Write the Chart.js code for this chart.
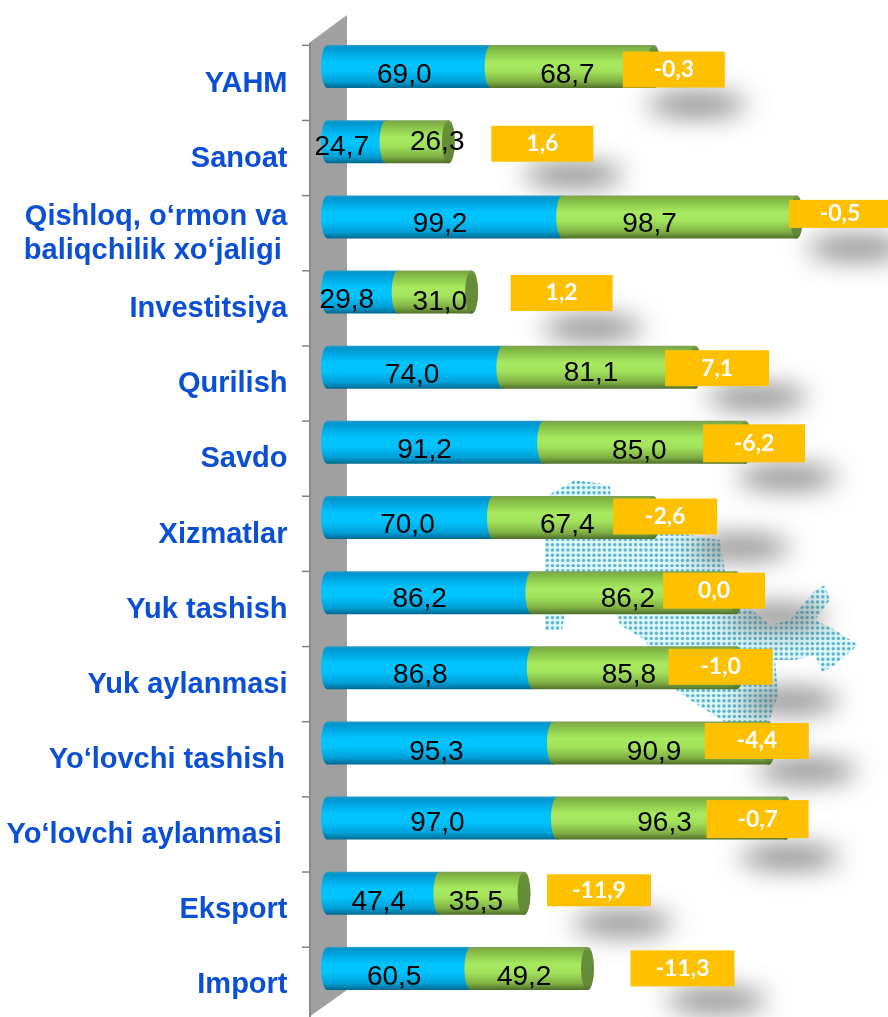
<!DOCTYPE html>
<html><head><meta charset="utf-8">
<style>html,body{margin:0;padding:0;background:#fff}canvas{display:block}</style>
<script src="https://cdn.jsdelivr.net/npm/chart.js@4"></script>
</head><body>
<canvas id="c" width="888" height="1017"></canvas>
<script>
const categories = ["YAHM","Sanoat",["Qishloq, o‘rmon va","baliqchilik xo‘jaligi\u2009"],"Investitsiya","Qurilish","Savdo","Xizmatlar","Yuk tashish","Yuk aylanmasi","Yo‘lovchi tashish\u200a","Yo‘lovchi aylanmasi\u2009","Eksport","Import"];
const seriesA = [69.0,24.7,99.2,29.8,74.0,91.2,70.0,86.2,86.8,95.3,97.0,47.4,60.5];
const seriesB = [68.7,26.3,98.7,31.0,81.1,85.0,67.4,86.2,85.8,90.9,96.3,35.5,49.2];
const change  = ["-0,3","1,6","-0,5","1,2","7,1","-6,2","-2,6","0,0","-1,0","-4,4","-0,7","-11,9","-11,3"];

// label placement tweaks relative to each segment centre / row centre (px)
const labelDxA = [-5,-15,-5,-16,-3,-11,-3,-10,-10,-4,-5,-5,-5];
const labelDxB = [-5,20,-30,5,-8,-5,-6,-6,-6,-7,-7,-6,-5];
const labelDyA = [9,6,7,8,8,8,8,7,7,9,5,9,9];
const labelDyB = [9,1,7,10,6,9,8,7,7,9,5,9,9];
// change-box placement relative to the end of the stack / row centre
const boxDx = [-31,43,-7.5,39,-30,-42,-40,-73,-68,-64,-79,23,43];
const boxDy = [-15,-16,-17,-17,-17,-18,-19,-20,-19,-20,-18,-19,-18];
const boxH  = [36,36,28,36,36,38,36,36,36,36,38,32,36];
const boxW  = [102,102,102,102,104,102,104,102,104,104,102,104,104];
const blobDx= [74,82,68,82,92,84,127,114,121,102,83,76,86];
const blobDy= [17,13,20,17,11,15,13,8,16,12,19,17,14];

const mapShape = [[545,497],[575,480],[610,485],[612,520],[660,530],[720,540],[728,590],[770,625],[790,620],[815,590],[825,585],[830,600],[815,620],[835,630],[858,645],[835,665],[822,672],[815,655],[795,660],[775,660],[778,695],[768,725],[730,725],[690,700],[670,685],[645,640],[620,625],[615,612],[565,612],[562,630],[545,630]];

function grad(chart, i, stops){
  const s = chart.scales.y;
  const y = s ? s.getPixelForValue(i) : NaN, h = 43;
  if(!isFinite(y)) return stops[2][1];
  const g = chart.ctx.createLinearGradient(0, y-h/2, 0, y+h/2);
  stops.forEach(t=>g.addColorStop(t[0],t[1]));
  return g;
}
const blueStops = [[0,'#2a9cc4'],[0.06,'#0095cf'],[0.4,'#00c4ff'],[0.6,'#00c2fc'],[0.85,'#009fd6'],[1,'#00688f']];
const greenStops = [[0,'#7d9f56'],[0.07,'#7fb342'],[0.4,'#a7ea60'],[0.6,'#a2e25c'],[0.85,'#7fb044'],[1,'#4f6f2a']];
const capStops = [[0,'#7f9f5a'],[0.1,'#67903a'],[0.9,'#628a36'],[1,'#4f6f2a']];

const scenery = {
  id:'scenery',
  beforeDatasetsDraw(chart){
    const c = chart.ctx, a = chart.chartArea, ys = chart.scales.y, xs = chart.scales.x;
    c.save();
    // dotted map in the background
    c.beginPath();
    mapShape.forEach((p,i)=> i? c.lineTo(p[0],p[1]) : c.moveTo(p[0],p[1]));
    c.closePath();
    c.save();
    c.clip();
    c.fillStyle='#dcf8fb';
    c.fillRect(540,470,330,270);
    for(let y=472;y<735;y+=5.2){
      for(let x=542;x<865;x+=5.2){
        c.beginPath();c.arc(x,y,1.7,0,7);c.fillStyle='rgba(50,150,185,0.7)';c.fill();
      }
    }
    c.restore();
    // soft shadows below the change boxes
    categories.forEach((_,i)=>{
      const rowY = ys.getPixelForValue(i);
      const left = xs.getPixelForValue(seriesA[i]+seriesB[i])+boxDx[i];
      const bottom = rowY+boxDy[i]+boxH[i];
      c.save();
      c.shadowColor='rgba(105,105,105,0.8)';
      c.shadowBlur=26;
      c.shadowOffsetX=2000;
      c.fillStyle='#000';
      c.beginPath();
      c.ellipse(left+blobDx[i]-2000,bottom+blobDy[i],50,12,0,0,7);
      c.fill();
      c.restore();
    });
    // grey back wall of the 3D plot
    const L=a.left-18.5, R=a.left+19.5;
    c.beginPath();
    c.moveTo(L,43);c.lineTo(R,15);c.lineTo(R,990);c.lineTo(L,1017);c.closePath();
    c.fillStyle='#a0a0a0';c.fill();
    c.fillStyle='#8a8a8a';c.fillRect(L,43,2,974);
    // axis tick marks
    c.fillStyle='#808080';
    categories.forEach((_,i)=>{
      c.fillRect(L-7, ys.getPixelForValue(i)-22, 7, 1.5);
    });
    c.restore();
  },
  afterDatasetsDraw(chart){
    const c = chart.ctx, xs = chart.scales.x, ys = chart.scales.y;
    const rx=6.5, ry=21.5;
    c.save();
    categories.forEach((_,i)=>{
      const y=ys.getPixelForValue(i);
      const x0=xs.getPixelForValue(0), x1=xs.getPixelForValue(seriesA[i]), x2=xs.getPixelForValue(seriesA[i]+seriesB[i]);
      const e=(x,st)=>{c.beginPath();c.ellipse(x,y,rx,ry,0,0,7);c.fillStyle=grad(chart,i,st);c.fill();};
      e(x0,blueStops);
      e(x1,greenStops);
      e(x2,greenStops);
      c.beginPath();c.ellipse(x2,y,rx,ry,0,0,7);c.fillStyle=grad(chart,i,capStops);c.fill();
    });
    // value labels
    c.textAlign='center';c.textBaseline='middle';
    categories.forEach((_,i)=>{
      const y=ys.getPixelForValue(i);
      const ca=xs.getPixelForValue(seriesA[i]/2), cb=xs.getPixelForValue(seriesA[i]+seriesB[i]/2);
      c.fillStyle='#000';
      c.font='28px "Liberation Sans"';
      c.fillText(seriesA[i].toFixed(1).replace('.',','),ca+labelDxA[i],y+labelDyA[i]);
      c.fillText(seriesB[i].toFixed(1).replace('.',','),cb+labelDxB[i],y+labelDyB[i]);
    });
    // change boxes
    categories.forEach((_,i)=>{
      const y=ys.getPixelForValue(i)+boxDy[i];
      const left=xs.getPixelForValue(seriesA[i]+seriesB[i])+boxDx[i];
      c.fillStyle='#ffc000';
      c.fillRect(left,y,boxW[i],boxH[i]);
      c.fillStyle='#fff';
      c.font='bold 23px Lato';
      c.fillText(change[i],left+boxW[i]/2,y+boxH[i]/2);
    });
    c.restore();
  }
};

new Chart(document.getElementById('c'),{
  type:'bar',
  plugins:[scenery],
  data:{labels:categories,datasets:[
    {label:'A',data:seriesA,backgroundColor:ctx=>grad(ctx.chart,ctx.dataIndex,blueStops),borderWidth:0,clip:false},
    {label:'B',data:seriesB,backgroundColor:ctx=>grad(ctx.chart,ctx.dataIndex,greenStops),borderWidth:0,clip:false}
  ]},
  options:{
    indexAxis:'y',responsive:false,animation:false,
    layout:{autoPadding:false,padding:{top:29,bottom:11,left:0,right:0}},
    datasets:{bar:{categoryPercentage:1,barPercentage:0.572}},
    plugins:{legend:{display:false},tooltip:{enabled:false}},
    scales:{
      x:{stacked:true,display:false,min:0,max:236.5},
      y:{stacked:true,
        afterFit(s){s.width=327.5;s.paddingTop=0;s.paddingBottom=0;},
        grid:{display:false},border:{display:false},
        ticks:{color:'#0b4fd6',padding:32,labelOffset:17,autoSkip:false,
          font:{family:'"Liberation Sans"',weight:'bold',size:29,lineHeight:1.17}}
      }
    }
  }
});
</script>
</body></html>
